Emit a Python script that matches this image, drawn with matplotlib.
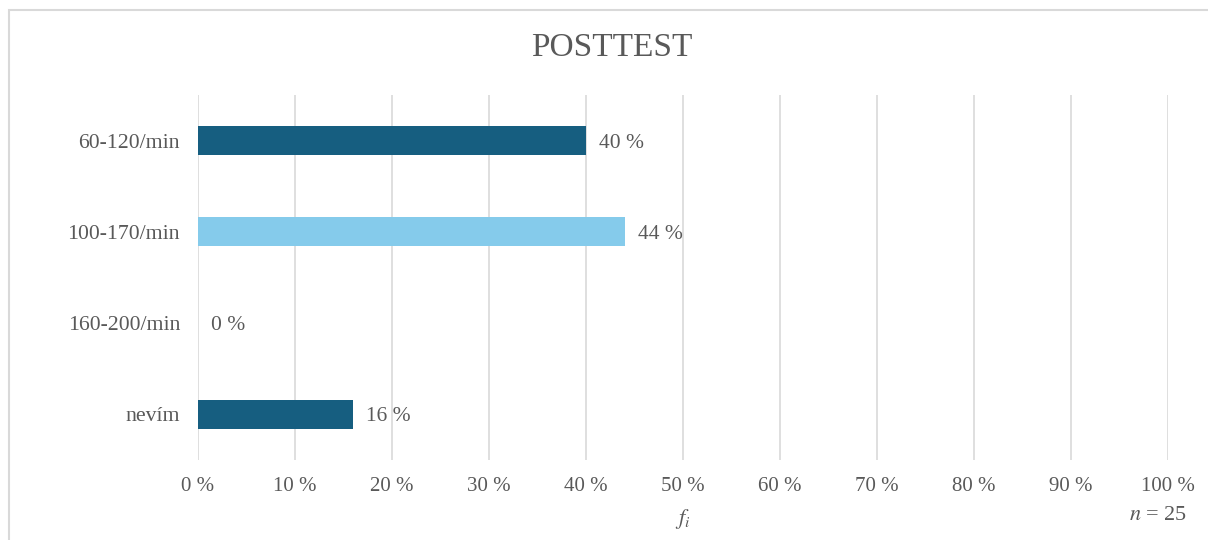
import matplotlib
matplotlib.use("Agg")
import matplotlib.pyplot as plt
from matplotlib.patches import Rectangle

categories = ["60-120/min", "100-170/min", "160-200/min", "nevím"]
values = [40, 44, 0, 16]
bar_colors = ["#165E80", "#85CBEB", "#165E80", "#165E80"]
xticks = list(range(0, 101, 10))
xtick_labels = [f"{t} %" for t in xticks]
title = "POSTTEST"
n_total = 25

plt.rcParams["font.family"] = ["Liberation Serif", "DejaVu Serif"]
text_color = "#595959"
grid_color = "#D9D9D9"

W, H = 1208, 540
fig = plt.figure(figsize=(W / 100, H / 100), dpi=100)

# light outer frame of the chart area
fig.patches.append(Rectangle((9 / W, -0.05), 1.1, 1 - 10 / H + 0.05,
                             transform=fig.transFigure, fill=False,
                             edgecolor=grid_color, linewidth=1.5))

ax = fig.add_axes([198 / W, 1 - 460 / H, (1168 - 198) / W, (460 - 95) / H])

ypos = list(range(len(categories)))
ax.barh(ypos, values, height=0.32, color=bar_colors, zorder=3)

for y, v in zip(ypos, values):
    ax.text(v + 1.35, y, f"{v} %", va="center_baseline", ha="left",
            fontsize=15.5, color=text_color, zorder=4)

ax.set_xlim(0, 100)
ax.set_ylim(len(categories) - 0.5, -0.5)
ax.set_xticks(xticks)
ax.set_xticklabels(xtick_labels)
ax.set_yticks(ypos)
ax.set_yticklabels(categories)
ax.tick_params(axis="both", length=0, colors=text_color)
ax.tick_params(axis="x", pad=12, labelsize=15)
ax.tick_params(axis="y", pad=13, labelsize=15.7)
ax.grid(axis="x", color=grid_color, linewidth=1.2, zorder=0)
for s in ax.spines.values():
    s.set_visible(False)

fig.text(612 / W, 1 - 48 / H, title, ha="center", va="center",
         fontsize=24, color=text_color)
fig.text(683 / W, 1 - 519 / H, r"$\mathit{f}_{\mathit{i}}$", ha="center",
         va="center", fontsize=16, color=text_color,
         math_fontfamily="stix")
fig.text(1158 / W, 1 - 516 / H, r"$\mathit{n}$ = " + str(n_total),
         ha="center", va="center", fontsize=16, color=text_color,
         math_fontfamily="stix")

fig.savefig("out.png", dpi=100, facecolor="white")
